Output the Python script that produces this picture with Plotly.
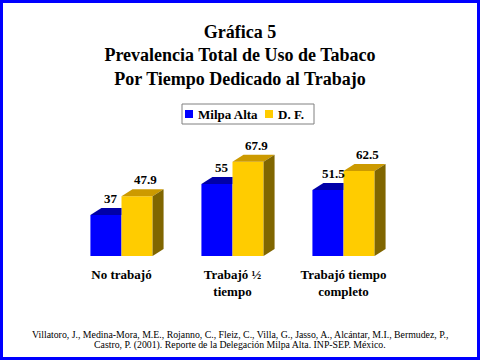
import plotly.graph_objects as go

categories = ["No trabajó", "Trabajó ½<br>tiempo", "Trabajó tiempo<br>completo"]
series_names = ["Milpa Alta", "D. F."]
milpa_alta = [37, 55, 51.5]
df_vals = [47.9, 67.9, 62.5]
value_labels_ma = ["37", "55", "51.5"]
value_labels_df = ["47.9", "67.9", "62.5"]

# ---- layout geometry (pixels) ----
W, H = 480, 360
L, R, T, B = 66, 81, 141, 104
PW, PH = W - L - R, H - T - B
Y0, Y1 = 13.1, 80.0
X0, X1 = -0.5, 2.5
xs = PW / (X1 - X0)
ys = PH / (Y1 - Y0)
DXP, DYP = 11, 7
dx = DXP / xs
dy = DYP / ys
BW = 0.28

BLUE, BLUE_TOP = "#0000FF", "#0000A8"
YEL, YEL_TOP, YEL_SIDE = "#FFCC00", "#CC9A00", "#806600"
SERIF = "Liberation Serif, Times New Roman, serif"

fig = go.Figure()
xpos = list(range(len(categories)))
fig.add_trace(go.Bar(x=xpos, y=milpa_alta, name=series_names[0], width=BW, offset=-BW,
                     marker=dict(color=BLUE, line=dict(width=0)), showlegend=False))
fig.add_trace(go.Bar(x=xpos, y=df_vals, name=series_names[1], width=BW, offset=0,
                     marker=dict(color=YEL, line=dict(width=0)), showlegend=False))

def poly(xp, yp, color):
    fig.add_trace(go.Scatter(x=xp + [xp[0]], y=yp + [yp[0]], mode="lines", fill="toself",
                             fillcolor=color, line=dict(width=0, color=color),
                             hoverinfo="skip", showlegend=False))

for i, (a, b) in enumerate(zip(milpa_alta, df_vals)):
    xl, xm, xr = i - BW, i, i + BW
    # visible part of blue top face
    poly([xl, xl + dx, xm, xm], [a, a + dy, a + dy, a], BLUE_TOP)
    # yellow top face
    poly([xm, xm + dx, xr + dx, xr], [b, b + dy, b + dy, b], YEL_TOP)
    # yellow side face
    poly([xr, xr + dx, xr + dx, xr], [Y0, Y0 + dy, b + dy, b], YEL_SIDE)

annos = []
for i, (a, b) in enumerate(zip(milpa_alta, df_vals)):
    annos.append(dict(x=i - BW / 2 + dx / 2, y=a + dy, text=value_labels_ma[i], showarrow=False,
                      yanchor="bottom", yshift=0, font=dict(family=SERIF, size=13, color="black", weight="bold")))
    annos.append(dict(x=i + BW / 2 + dx / 2, y=b + dy, text=value_labels_df[i], showarrow=False,
                      xshift=3, yanchor="bottom", yshift=0, font=dict(family=SERIF, size=13, color="black", weight="bold")))

def pxx(p):
    return (p - L) / PW

def pxy(p):
    return (H - B - p) / PH

shapes = []
# legend box
shapes.append(dict(type="rect", xref="paper", yref="paper", x0=pxx(182), x1=pxx(314),
                   y0=pxy(124), y1=pxy(104), line=dict(color="#808080", width=1), fillcolor="white"))
shapes.append(dict(type="rect", xref="paper", yref="paper", x0=pxx(185), x1=pxx(193),
                   y0=pxy(118), y1=pxy(110), line=dict(width=0), fillcolor=BLUE))
shapes.append(dict(type="rect", xref="paper", yref="paper", x0=pxx(265), x1=pxx(273),
                   y0=pxy(118), y1=pxy(110), line=dict(width=0), fillcolor=YEL))
annos.append(dict(xref="paper", yref="paper", x=pxx(196), y=pxy(114), xanchor="left", yanchor="middle",
                  text=series_names[0], showarrow=False,
                  font=dict(family=SERIF, size=13, color="black", weight="bold")))
annos.append(dict(xref="paper", yref="paper", x=pxx(276), y=pxy(114), xanchor="left", yanchor="middle",
                  text=series_names[1], showarrow=False,
                  font=dict(family=SERIF, size=13, color="black", weight="bold")))
# outer blue border
shapes.append(dict(type="rect", xref="paper", yref="paper", x0=pxx(1.5), x1=pxx(W - 1.5),
                   y0=pxy(H - 1.5), y1=pxy(1.5), line=dict(color="#0000FF", width=3)))

# citation
cite1 = "Villatoro, J., Medina-Mora, M.E., Rojanno, C., Fleiz, C., Villa, G., Jasso, A., Alcántar, M.I., Bermudez, P.,"
cite2 = "Castro, P. (2001). Reporte de la Delegación Milpa Alta. INP-SEP. México."
annos.append(dict(xref="paper", yref="paper", x=pxx(240), y=pxy(334), xanchor="center", yanchor="middle",
                  text=cite1, showarrow=False, font=dict(family=SERIF, size=9.8, color="black")))
annos.append(dict(xref="paper", yref="paper", x=pxx(240), y=pxy(344.5), xanchor="center", yanchor="middle",
                  text=cite2, showarrow=False, font=dict(family=SERIF, size=9.8, color="black")))

fig.update_layout(
    width=W, height=H,
    margin=dict(l=L, r=R, t=T, b=B),
    paper_bgcolor="white", plot_bgcolor="white",
    title=dict(text="Gráfica 5<br>Prevalencia Total de Uso de Tabaco<br>Por Tiempo Dedicado al Trabajo",
               x=0.5, xref="container", xanchor="center", y=1 - 38 / H, yref="container", yanchor="middle",
               font=dict(family=SERIF, size=18, color="black", weight="bold")),
    xaxis=dict(range=[X0, X1], tickvals=xpos, ticktext=categories, showgrid=False, zeroline=False,
               showline=False, ticks="", ticklabelstandoff=9,
               tickfont=dict(family=SERIF, size=13, color="black", weight="bold")),
    yaxis=dict(range=[Y0, Y1], visible=False, showgrid=False, zeroline=False),
    barmode="overlay",
    showlegend=False,
    annotations=annos,
    shapes=shapes,
)

fig.write_html("out.html", config={"displayModeBar": False},
               post_script="document.body.style.margin='0';")
